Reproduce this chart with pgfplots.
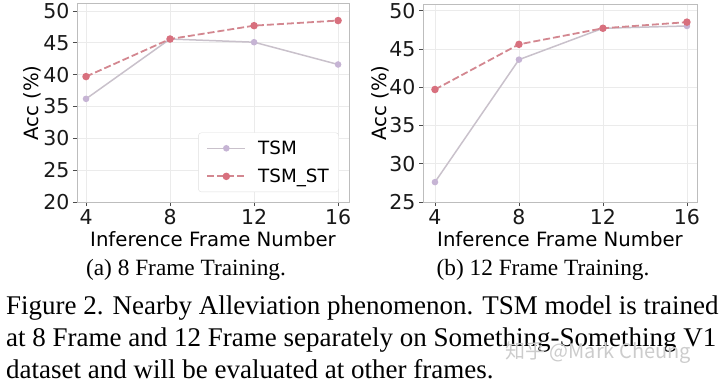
\documentclass[border=0pt]{standalone}
\usepackage{fontspec}
\setmainfont{Liberation Serif}
\newfontfamily\dejavu{DejaVu Sans}
\newfontfamily\cjk{Noto Sans CJK SC}
\usepackage{pgfplots}
\pgfplotsset{compat=1.18}
\definecolor{tsmline}{HTML}{C9C1CB}
\definecolor{tsmmark}{HTML}{C6B4D4}
\definecolor{stline}{HTML}{D38790}
\definecolor{stmark}{HTML}{D8707E}
\definecolor{spine}{HTML}{BDBDBD}
\definecolor{gridc}{HTML}{EBEBEB}
\pgfplotsset{
 myaxis/.style={
  scale only axis, anchor=south west,
  axis line style={spine, line width=1pt},
  grid=major, major grid style={gridc, line width=0.8pt},
  xtick={4,8,12,16},
  tick align=outside, xtick pos=bottom, ytick pos=left,
  major tick length=4pt, tick style={black!70, line width=0.8pt},
  /pgf/number format/assume math mode=true,
  ticklabel style={font=\dejavu\fontsize{20.5}{20}\selectfont, text=black!90},
  label style={font=\dejavu\fontsize{19.7}{20}\selectfont},
  xlabel={Inference Frame Number},
  ylabel={Acc (\%)},
  xlabel style={at={(rel axis cs:0.5,0)}, anchor=base, yshift=-44pt},
  legend cell align=left,
  legend image code/.code={\draw[mark repeat=2,mark phase=2,##1] plot coordinates {(0pt,0pt) (19pt,0pt) (38pt,0pt)};},
 },
 tsm/.style={tsmline, line width=1.5pt, mark=*, mark size=2.5pt, mark options={tsmmark, solid}},
 tsmst/.style={stline, line width=1.8pt, dash pattern=on 7pt off 3pt, mark=*, mark size=2.8pt, mark options={stmark, solid}},
}
\begin{document}
\begin{tikzpicture}
\path[use as bounding box] (0,0) rectangle (720pt,384pt);
\begin{axis}[myaxis,
  at={(77pt,182pt)}, width=272pt, height=198pt,
  xmin=3.57, xmax=16.52, ymin=20, ymax=51.1, ytick={20,25,...,50},
  ylabel style={at={(rel axis cs:-0.165,0.5)}, anchor=center},
  legend style={at={(rel axis cs:0.963,0.05)}, anchor=south east, draw=gray!25, rounded corners=3pt,
    font=\dejavu\fontsize{18.3}{18}\selectfont, row sep=9pt, column sep=10pt, inner xsep=8pt, inner ysep=6pt},
]
\addplot[tsm] coordinates {(4,36.2)(8,45.6)(12,45.1)(16,41.6)};
\addlegendentry{TSM}
\addplot[tsmst] coordinates {(4,39.7)(8,45.6)(12,47.7)(16,48.5)};
\addlegendentry{TSM\_ST}
\end{axis}
\begin{axis}[myaxis,
  at={(423pt,182pt)}, width=274pt, height=198pt,
  xmin=3.43, xmax=16.48, ymin=25, ymax=50.87, ytick={25,30,...,50},
  ylabel style={at={(rel axis cs:-0.157,0.5)}, anchor=center},
]
\addplot[tsm] coordinates {(4,27.6)(8,43.6)(12,47.7)(16,48.0)};
\addplot[tsmst] coordinates {(4,39.7)(8,45.6)(12,47.7)(16,48.5)};
\end{axis}
\node[anchor=base, inner sep=0pt, font=\fontsize{23.3}{24}\selectfont] at (186pt,109pt) {(a) 8 Frame Training.};
\node[anchor=base, inner sep=0pt, font=\fontsize{23.3}{24}\selectfont] at (543pt,109pt) {(b) 12 Frame Training.};
\node[anchor=base west, inner sep=0pt, font=\fontsize{27}{32}\selectfont] at (6pt,70pt) {Figure 2. Nearby Alleviation phenomenon. TSM model is trained};
\node[anchor=base west, inner sep=0pt, font=\fontsize{27}{32}\selectfont] at (6pt,37.3pt) {at 8 Frame and 12 Frame separately on Something-Something V1};
\node[anchor=base west, inner sep=0pt, font=\fontsize{27}{32}\selectfont] at (6pt,6pt) {dataset and will be evaluated at other frames.};
\node[anchor=west, inner sep=0pt, text=gray!40, font=\cjk\fontsize{20}{20}\selectfont] at (505pt,31pt) {知乎 @Mark Cheung};
\end{tikzpicture}
\end{document}
